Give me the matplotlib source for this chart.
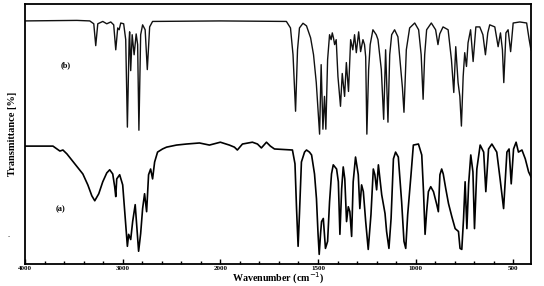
import numpy as np
import matplotlib
matplotlib.use("Agg")
import matplotlib.pyplot as plt
from matplotlib.ticker import FixedLocator, NullFormatter

# ---- spectrum (b) ----
wn_b = [4000, 3469, 3337, 3296, 3276, 3255, 3204, 3163, 3122, 3092, 3071, 3051, 3036, 3020,
        2990, 2969, 2952, 2934, 2929, 2918, 2903, 2883, 2862, 2847, 2834, 2816, 2796, 2770,
        2748, 2724, 2694, 2000, 1662, 1641, 1628, 1615, 1605, 1595, 1577, 1559, 1538, 1523,
        1509, 1500, 1492, 1484, 1475, 1467, 1460, 1451, 1441, 1433, 1427, 1421, 1415, 1407,
        1398, 1385, 1376, 1364, 1355, 1344, 1333, 1322, 1313, 1304, 1292, 1282, 1270, 1262,
        1256, 1250, 1241, 1233, 1219, 1202, 1193, 1176, 1164, 1154, 1142, 1133, 1123, 1108,
        1091, 1073, 1068, 1060, 1048, 1031, 1005, 985, 972, 962, 954, 944, 920, 898, 886,
        877, 860, 834, 817, 805, 795, 783, 774, 766, 757, 749, 740, 732, 719, 706, 692,
        672, 656, 643, 631, 621, 595, 578, 566, 556, 549, 538, 527, 514, 501, 467, 432,
        419, 410]
tr_b = [93.5, 93.7, 93.5, 92.4, 84.0, 92.4, 93.3, 92.4, 93.1, 92.0, 82.4, 90.8, 90.1, 92.7,
        92.4, 86.3, 52.7, 86.3, 89.3, 74.4, 88.2, 80.5, 88.5, 84.4, 51.5, 88.2, 92.0, 90.1,
        74.8, 91.2, 93.3, 93.5, 93.3, 90.8, 80.5, 58.8, 82.4, 90.8, 92.6, 91.6, 87.0, 80.5,
        69.8, 59.5, 50.0, 76.7, 51.9, 64.5, 51.9, 78.6, 88.2, 86.3, 88.9, 87.0, 84.4, 86.3,
        72.1, 60.7, 73.3, 64.5, 77.5, 66.4, 86.3, 82.4, 88.2, 81.3, 89.3, 81.7, 86.3, 84.4,
        79.7, 50.0, 74.8, 84.4, 90.1, 88.2, 86.3, 74.8, 55.7, 82.4, 54.6, 80.5, 88.2, 90.1,
        87.4, 72.1, 67.9, 58.4, 82.4, 90.8, 92.7, 90.1, 80.5, 63.4, 80.5, 90.1, 92.7, 90.1, 84.4,
        88.5, 91.2, 90.1, 78.6, 66.0, 83.6, 69.8, 64.5, 53.1, 72.1, 81.3, 76.0, 85.1, 90.1, 77.9, 91.2,
        91.2, 88.2, 80.5, 88.9, 92.0, 91.2, 83.6, 88.9, 82.4, 69.8, 88.9, 90.1, 81.7, 92.7, 93.1, 92.7,
        86.3, 82.4]

# ---- spectrum (a) ----
wn_a = [4000, 3847, 3714, 3673, 3643, 3612, 3571, 3490, 3408, 3357, 3316, 3286, 3245, 3204,
        3163, 3133, 3102, 3082, 3071, 3061, 3031, 3000, 2974, 2952, 2939, 2918, 2898, 2872,
        2857, 2837, 2816, 2796, 2776, 2755, 2735, 2714, 2694, 2673, 2643, 2592, 2551, 2449,
        2347, 2214, 2112, 2000, 1954, 1928, 1913, 1887, 1836, 1810, 1790, 1764, 1744, 1723,
        1631, 1618, 1610, 1602, 1595, 1585, 1569, 1559, 1544, 1533, 1518, 1508, 1500, 1494,
        1487, 1482, 1473, 1462, 1451, 1441, 1431, 1422, 1405, 1396, 1388, 1379, 1371, 1363,
        1354, 1345, 1337, 1328, 1320, 1308, 1294, 1286, 1277, 1268, 1256, 1243, 1229, 1217,
        1209, 1200, 1191, 1183, 1174, 1157, 1149, 1137, 1126, 1114, 1103, 1089, 1072, 1060,
        1051, 1041, 1024, 1012, 986, 969, 960, 952, 944, 935, 923, 909, 892, 884, 876, 867,
        859, 846, 832, 815, 798, 781, 773, 764, 755, 747, 738, 729, 718, 707, 699, 687, 670,
        652, 641, 627, 610, 585, 568, 550, 533, 522, 511, 499, 486, 474, 456, 439, 422, 410]
tr_a = [45.4, 45.4, 45.4, 44.3, 43.5, 43.9, 42.4, 38.6, 34.7, 30.5, 26.3, 24.4, 27.1, 31.7,
        35.1, 36.3, 34.7, 29.8, 26.0, 32.8, 34.4, 30.5, 17.6, 6.9, 11.5, 9.5, 16.4, 22.9,
        15.3, 5.0, 11.8, 21.4, 27.1, 20.2, 34.4, 36.6, 32.8, 39.3, 43.1, 44.3, 45.0, 45.8,
        46.2, 46.6, 45.8, 46.9, 45.8, 45.0, 43.9, 46.2, 46.9, 46.2, 44.7, 46.9, 45.4, 44.3,
        43.9, 38.6, 21.4, 6.9, 19.5, 39.3, 43.1, 43.9, 43.1, 42.0, 34.7, 25.2, 11.8, 3.8,
        11.8, 16.4, 17.6, 6.1, 8.8, 24.0, 34.7, 38.2, 36.6, 31.7, 11.5, 29.0, 37.4, 32.8,
        16.4, 22.1, 20.2, 10.7, 31.7, 41.2, 34.4, 21.4, 30.5, 27.9, 16.4, 5.7, 19.1, 36.6,
        34.4, 28.6, 38.2, 32.8, 26.7, 19.5, 12.6, 6.1, 17.6, 40.5, 43.1, 41.2, 24.0, 8.8,
        6.1, 19.1, 34.4, 45.8, 46.2, 42.0, 27.9, 11.5, 20.2, 27.9, 29.8, 27.9, 22.9, 20.2, 34.4, 36.6,
        34.7, 29.0, 23.3, 18.3, 13.7, 12.6, 6.1, 5.7, 17.6, 31.7, 13.7, 30.9, 42.0, 35.5, 13.7, 36.6, 45.8,
        43.1, 27.9, 44.3, 46.2, 43.1, 32.8, 21.4, 43.1, 44.3, 30.9, 44.3, 46.9, 43.1, 43.9, 40.5, 35.5, 33.6]

major_ticks = [4000, 3000, 2000, 1500, 1000, 500]
major_labels = ["4000", "3000", "2000", "1500", "1000", "500"]
minor_ticks = [3800, 3600, 3400, 3200, 2800, 2600, 2400, 2200,
               1900, 1800, 1700, 1600, 1400, 1300, 1200, 1100,
               900, 800, 700, 600]


def fwd(w):
    w = np.asarray(w, dtype=float)
    return np.where(w <= 2000, w / 500.0, 4.0 + (w - 2000.0) / 1000.0)


def inv(u):
    u = np.asarray(u, dtype=float)
    return np.where(u <= 4.0, u * 500.0, 2000.0 + (u - 4.0) * 1000.0)


fig = plt.figure(figsize=(5.44, 2.86), dpi=100)
ax = fig.add_axes([0.046, 0.076, 0.93, 0.91])
ax.set_xscale('function', functions=(fwd, inv))
ax.plot(wn_b, tr_b, color='#111111', lw=1.0)
ax.plot(wn_a, tr_a, color='#000000', lw=1.2)
ax.set_xlim(4000, 410)
ax.set_ylim(0, 100)

ax.xaxis.set_major_locator(FixedLocator(major_ticks))
ax.set_xticklabels(major_labels, fontfamily='Liberation Serif', fontweight='bold', fontsize=5)
ax.xaxis.set_minor_locator(FixedLocator(minor_ticks))
ax.xaxis.set_minor_formatter(NullFormatter())
ax.tick_params(axis='x', which='major', direction='in', length=3.5, width=1.0, pad=1.0)
ax.tick_params(axis='x', which='minor', direction='in', length=2.5, width=1.0)
ax.set_yticks([])
for s in ax.spines.values():
    s.set_linewidth(1.3)

ax.set_xlabel("Wavenumber (cm$^{-1}$)", fontfamily='Liberation Serif', fontweight='bold',
              fontsize=7.2, va='center')
ax.xaxis.set_label_coords(0.5, -0.055)
ax.set_ylabel("Transmittance [%]", fontfamily='Liberation Serif', fontweight='bold',
              fontsize=7.5, labelpad=6)

ax.text(0.08, 0.765, "(b)", transform=ax.transAxes, fontfamily='Liberation Serif',
        fontweight='bold', fontsize=6, ha='center', va='center')
ax.text(0.07, 0.21, "(a)", transform=ax.transAxes, fontfamily='Liberation Serif',
        fontweight='bold', fontsize=6, ha='center', va='center')
fig.text(0.014, 0.17, ".", fontsize=6, fontfamily='Liberation Serif')

fig.savefig("out.png", dpi=100)
